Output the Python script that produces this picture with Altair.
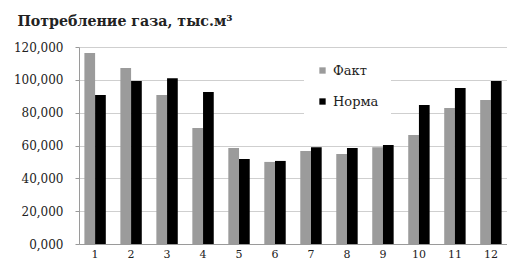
import altair as alt
import pandas as pd

months = ["1", "2", "3", "4", "5", "6", "7", "8", "9", "10", "11", "12"]
fact = [116.3, 107.2, 90.8, 70.7, 58.5, 50.0, 56.6, 54.8, 59.0, 66.4, 82.8, 87.7]
norma = [90.8, 99.3, 101.0, 92.6, 51.8, 50.6, 59.0, 58.5, 60.3, 84.7, 95.0, 99.3]
series = ["Факт", "Норма"]
y_ticks = [0, 20, 40, 60, 80, 100, 120]
title_text = "Потребление газа, тыс.м³"

rows = []
for i, m in enumerate(months):
    rows.append({"month": m, "series": series[0], "value": fact[i]})
    rows.append({"month": m, "series": series[1], "value": norma[i]})
df = pd.DataFrame(rows)

chart = alt.Chart(df).mark_bar().encode(
    x=alt.X("month:N", sort=months, title=None,
            scale=alt.Scale(paddingInner=0.405, paddingOuter=0.15, round=False),
            axis=alt.Axis(labelAngle=0, labelFont="DejaVu Serif", labelFontSize=11,
                          labelColor="#222", domainColor="#9a9a9a", ticks=False,
                          labelPadding=4)),
    xOffset=alt.XOffset("series:N", sort=series,
                        scale=alt.Scale(paddingInner=0, paddingOuter=0, round=False)),
    y=alt.Y("value:Q", title=None,
            scale=alt.Scale(domain=[0, 120], nice=False),
            axis=alt.Axis(values=y_ticks,
                          labelExpr="replace(format(datum.value, '.3f'), '.', ',')",
                          labelFont="DejaVu Serif", labelFontSize=12, labelColor="#222",
                          domainColor="#9a9a9a", gridColor="#cfcfcf", tickColor="#9a9a9a",
                          tickSize=4, labelPadding=12)),
    color=alt.Color("series:N", sort=series,
                    scale=alt.Scale(domain=series, range=["#9b9b9b", "#000000"]),
                    legend=alt.Legend(title=None, orient="none", legendX=225, legendY=5,
                                      fillColor="white", padding=12, rowPadding=17,
                                      symbolType="square", symbolSize=40,
                                      labelFont="DejaVu Serif", labelFontSize=13,
                                      labelColor="#222", labelOffset=4)),
).properties(
    width=428, height=197,
    title=alt.TitleParams(title_text, font="DejaVu Serif", fontSize=14.2, fontWeight="bold",
                          anchor="start", frame="bounds", color="#222", offset=12, dx=4),
    autosize=alt.AutoSizeParams(type="none"),
    padding={"left": 71, "top": 39, "right": 0, "bottom": 17},
).configure_view(stroke=None)

chart.save("out.html", embed_options={"renderer": "svg", "actions": False})
